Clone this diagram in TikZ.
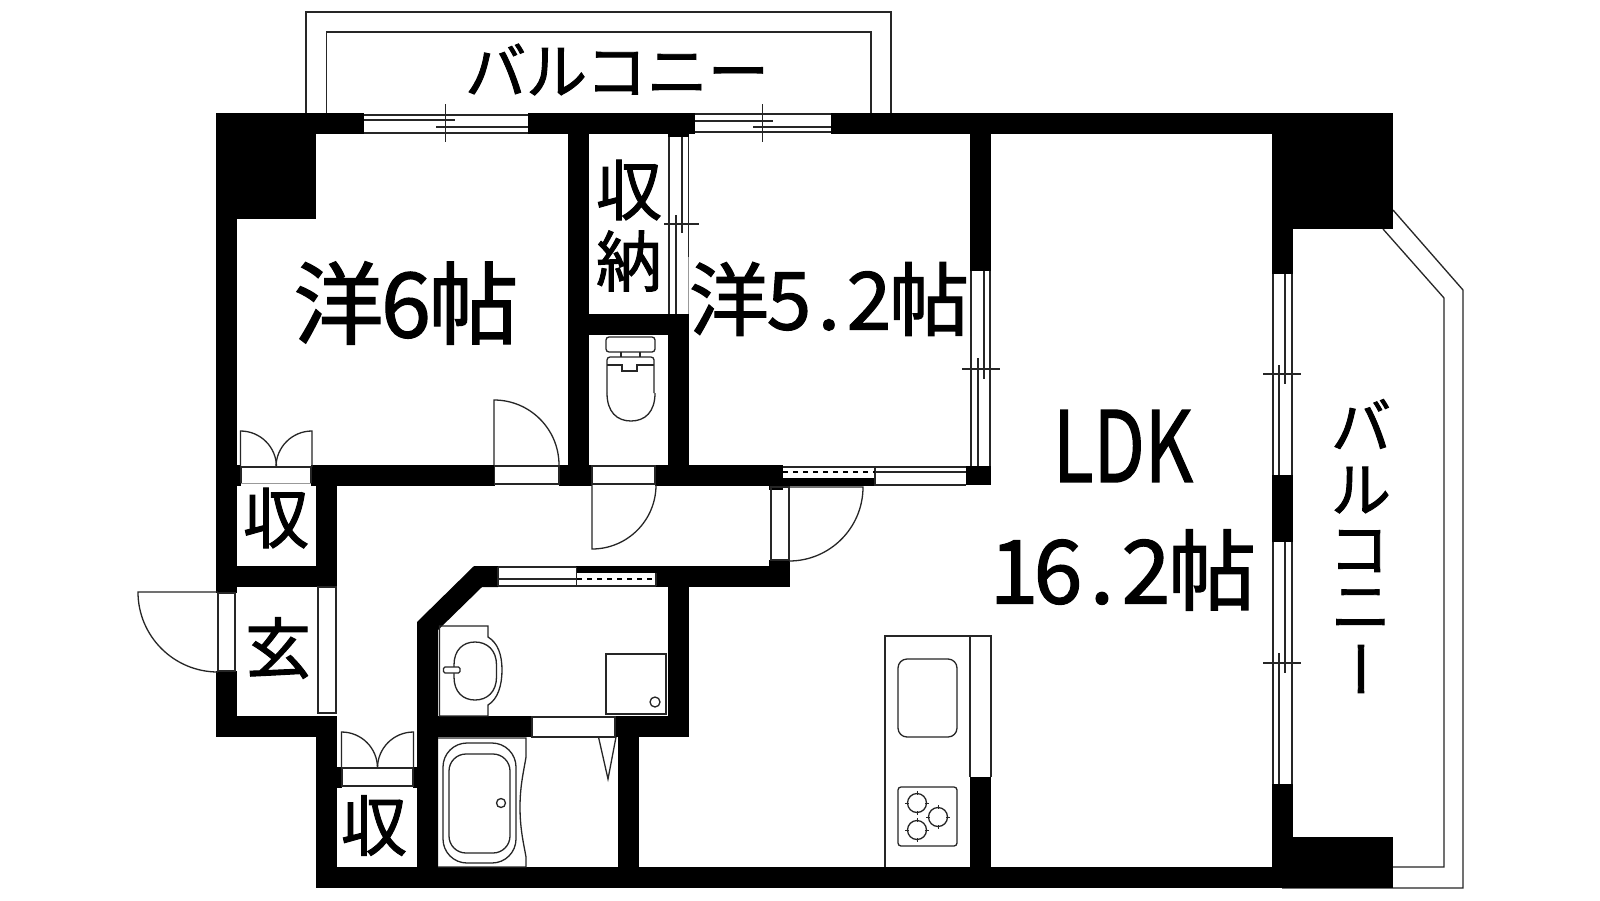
\documentclass[tikz,border=0pt]{standalone}
\usepackage{fontspec}
\usepackage{graphicx}
\newfontfamily\jp[FakeBold=1.5]{Noto Sans CJK JP}
\newcommand{\hw}[1]{\makebox[0.5em]{#1}}
\newcommand{\fs}[1]{\fontsize{#1}{#1}\selectfont\jp}
\tikzset{
  wall/.style={fill=black,draw=none},
  ln/.style={draw=black!85,line width=1.3pt},
  fnt/.style={draw=black!40,line width=1pt},
  lbl/.style={inner sep=0pt,outer sep=0pt,text=black,anchor=center},
  dsh/.style={draw=black,line width=1.3pt,dash pattern=on 5pt off 5pt}
}
\begin{document}
\begin{tikzpicture}[x=1pt,y=-1pt]
\useasboundingbox (0,0) rectangle (1600,900);
\fill[white] (0,0) rectangle (1600,900);
% balconies
\draw[ln] (306,113) -- (306,12) -- (891,12) -- (891,113);
\draw[ln] (326.5,113) -- (326.5,32) -- (871,32) -- (871,113);
\draw[ln] (1393,210) -- (1463,290) -- (1463,888) -- (1282,888);
\draw[ln] (1383,229) -- (1444,298) -- (1444,867) -- (1393,867);
% walls
\path[wall] (216,113) rectangle (364,134);
\path[wall] (528,113) rectangle (695,134);
\path[wall] (831,113) rectangle (1272,134);
\path[wall] (216,113) rectangle (316,219);
\path[wall] (216,219) rectangle (237,593);
\path[wall] (216,671) rectangle (237,737);
\path[wall] (216,716) rectangle (337,737);
\path[wall] (316,716) rectangle (337,888);
\path[wall] (316,867) rectangle (1393,888);
\path[wall] (237,465) rectangle (241,486);
\path[wall] (311,465) rectangle (494.5,486);
\path[wall] (559,465) rectangle (592,486);
\path[wall] (655,465) rectangle (783,486);
\path[wall] (568,134) rectangle (589,486);
\path[wall] (568,314) rectangle (689,335);
\path[wall] (668,314) rectangle (689,486);
\path[wall] (668,134) rectangle (689,137);
\path[wall] (316,465) rectangle (337,587);
\path[wall] (216,566) rectangle (337,587);
\path[wall] (417,867) -- (417,622) -- (474,566) -- (498,566) -- (498,587) -- (482,587) -- (438,630) -- (438,867) -- cycle;
\path[wall] (576,566) rectangle (656,573);
\path[wall] (656,566) rectangle (790,587);
\path[wall] (668,587) rectangle (689,737);
\path[wall] (417,716) rectangle (532,737);
\path[wall] (615,716) rectangle (689,737);
\path[wall] (618,737) rectangle (639,867);
\path[wall] (769,465) rectangle (783,490);
\path[wall] (769,560) rectangle (790,587);
\path[wall] (783,478) rectangle (875,486);
\path[wall] (966,466) rectangle (991,485);
\path[wall] (970,134) rectangle (991,271);
\path[wall] (337,767) rectangle (342,788);
\path[wall] (413,767) rectangle (417,788);
\path[wall] (970,777) rectangle (991,867);
\path[wall] (1272,113) rectangle (1393,229);
\path[wall] (1272,229) rectangle (1293,274);
\path[wall] (1272,475) rectangle (1293,542);
\path[wall] (1272,784) rectangle (1293,887);
\path[wall] (1272,837) rectangle (1393,888);
% top window 1
\draw[ln] (364,115) -- (528,115) (364,133) -- (528,133);
\draw[ln] (364,120) -- (455,120) (436,127) -- (528,127) (445.5,104) -- (445.5,142);
% top window 2
\draw[ln] (695,114) -- (831,114) (695,132) -- (831,132);
\draw[ln] (695,121) -- (773,121) (753,127) -- (831,127) (762.5,104) -- (762.5,142);
% closet window
\draw[ln] (669,137) -- (669,314) (676,215) -- (676,314) (682,137) -- (682,233) (688.5,137) -- (688.5,257) (664,224) -- (698.5,224);
\draw[fnt] (688.5,257) -- (688.5,314);
% room window
\draw[ln] (971,271) -- (971,466) (978,358) -- (978,466) (984,271) -- (984,379) (990,271) -- (990,466) (962,369) -- (1000,369);
% LDK windows
\draw[ln] (1273,274) -- (1273,475) (1279,365) -- (1279,475) (1285,274) -- (1285,384) (1292,274) -- (1292,475) (1263,374) -- (1301,374);
\draw[ln] (1273,542) -- (1273,784) (1279,653) -- (1279,784) (1285,542) -- (1285,673) (1292,542) -- (1292,784) (1263,663) -- (1301,663);
% sliding opening
\draw[ln] (783,467) -- (966,467) (875,472) -- (966,472) (875,485) -- (966,485) (875,467) -- (875,486);
\draw[dsh] (783,472) -- (875,472);
% washroom window
\draw[ln] (498,567) -- (576,567) (498,579) -- (576,579) (498,586) -- (656,586) (498,567) -- (498,586) (576.5,567) -- (576.5,586) (656,573) -- (656,586);
\draw[dsh] (577,579) -- (656,579);
% door openings
\draw[ln] (241,483) -- (241,467) -- (311,467) -- (311,483);
\draw[fnt] (241,483.5) -- (311,483.5);
\draw[ln] (494.5,466) rectangle (559,484);
\draw[ln] (592,466) rectangle (655,484);
\draw[ln] (771,487) rectangle (789,560);
\draw[ln] (218,593) rectangle (235,671);
\draw[ln] (318,587) rectangle (336,713);
\draw[ln] (342,768) rectangle (413,786);
\draw[ln] (532,717) rectangle (615,737);
% door leaves
\draw[ln] (494,465) -- (494,400) arc[start angle=90,end angle=0,radius=65pt];
\draw[ln] (592,484) -- (592,549) arc[start angle=-90,end angle=0,radius=64pt];
\draw[ln] (789,487) -- (863,487) arc[start angle=0,end angle=-90,radius=74pt];
\draw[ln] (218,592) -- (138,592) arc[start angle=180,end angle=270,radius=80pt];
\draw[ln] (240.5,467) -- (240.5,431) arc[start angle=90,end angle=0,radius=36pt];
\draw[ln] (312,467) -- (312,431) arc[start angle=90,end angle=180,radius=36pt];
\draw[ln] (341.5,768) -- (341.5,732) arc[start angle=90,end angle=0,radius=36pt];
\draw[ln] (413.5,768) -- (413.5,732) arc[start angle=90,end angle=180,radius=36pt];
% toilet
\draw[ln,rounded corners=3pt] (606,337) rectangle (655,352);
\draw[ln] (621,352) -- (621,357) (640,352) -- (640,357);
\draw[ln] (607,365) -- (622,365) -- (622,371) -- (637,371) -- (637,365) -- (654,365);
\draw[ln,rounded corners=3pt] (607,393) -- (607,357) -- (654,357) -- (654,393);
\draw[ln] (607,393) .. controls (607,412) and (617,421) .. (631,421) .. controls (645,421) and (655,412) .. (655,393);
% wash basin
\draw[ln] (439.5,716) -- (439.5,626) -- (488,626) -- (488,637) .. controls (498,643) and (502,655) .. (502,670) .. controls (502,685) and (498,699) .. (488,705) -- (488,716) -- cycle;
\draw[ln] (475,642) .. controls (487,642) and (496.5,650) .. (496.5,665) -- (496.5,677) .. controls (496.5,692) and (487,700) .. (475,700) .. controls (463,700) and (454,692) .. (454,677) -- (454,665) .. controls (454,650) and (463,642) .. (475,642) -- cycle;
\draw[ln,fill=white,rounded corners=1.5pt] (443.5,667) rectangle (460,673);
\draw[ln] (606,654) rectangle (666,714);
\draw[ln] (655,702) circle[radius=5pt];
% bath
\draw[ln] (438,738) -- (526,738) -- (526,757) .. controls (524,770) and (520,785) .. (520,807) .. controls (520,830) and (524,845) .. (526,857) -- (526,867) -- (438,867);
\draw[ln,rounded corners=24pt] (443,743) rectangle (516,863);
\draw[ln,rounded corners=17pt] (449,754) rectangle (510,853);
\draw[ln] (501,803) circle[radius=4.5pt];
\draw[ln] (598.5,737) -- (608,779) -- (616,737);
% kitchen
\draw[ln] (885,867) -- (885,636) -- (991,636) -- (991,777) (970,636) -- (970,777);
\draw[ln,rounded corners=9pt] (898,659) rectangle (957,737);
\draw[ln,rounded corners=3pt] (898,787) rectangle (957,846);
\foreach \cx/\cy in {917/803,938/817,917/830}{
  \draw[ln] (\cx,\cy) circle[radius=9.5pt];
  \draw[ln,line width=1pt] (\cx-12,\cy) -- (\cx-8,\cy) (\cx+8,\cy) -- (\cx+12,\cy) (\cx,\cy-12) -- (\cx,\cy-8) (\cx,\cy+8) -- (\cx,\cy+12);
}
% labels
\node[lbl] (balcT) at (617,69.5) {\fs{61}バルコニー};
\node[lbl] (yo6) at (406,303) {\fs{90}洋\hw{6}帖};
\node[lbl] (yo5) at (829,299) {\fs{80}洋\hw{5}\hw{.}\hw{2}帖};
\node[lbl] (ldk) at (1123,446) {\fs{98}\scalebox{0.76}[1]{LDK}};
\node[lbl] (tatami) at (1124,570) {\fs{88}\hw{1}\hw{6}\hw{.}\hw{2}帖};
\node[lbl] (shuno1) at (629,190) {\fs{66}収};
\node[lbl] (shuno2) at (629,261) {\fs{66}納};
\node[lbl] (shu1) at (276,518) {\fs{66}収};
\node[lbl] (gen) at (278,648) {\fs{66}玄};
\node[lbl] (shu2) at (374,825.5) {\fs{66}収};
\node[lbl] (vb1) at (1361,424) {\fs{60}バ};
\node[lbl] (vb2) at (1361,490) {\fs{60}ル};
\node[lbl] (vb3) at (1359,551) {\fs{60}コ};
\node[lbl] (vb4) at (1361,609) {\fs{60}ニ};
\node[lbl] (vb5) at (1371,669) {\fs{60}\rotatebox[origin=c]{90}{ー}};
\end{tikzpicture}
\end{document}
